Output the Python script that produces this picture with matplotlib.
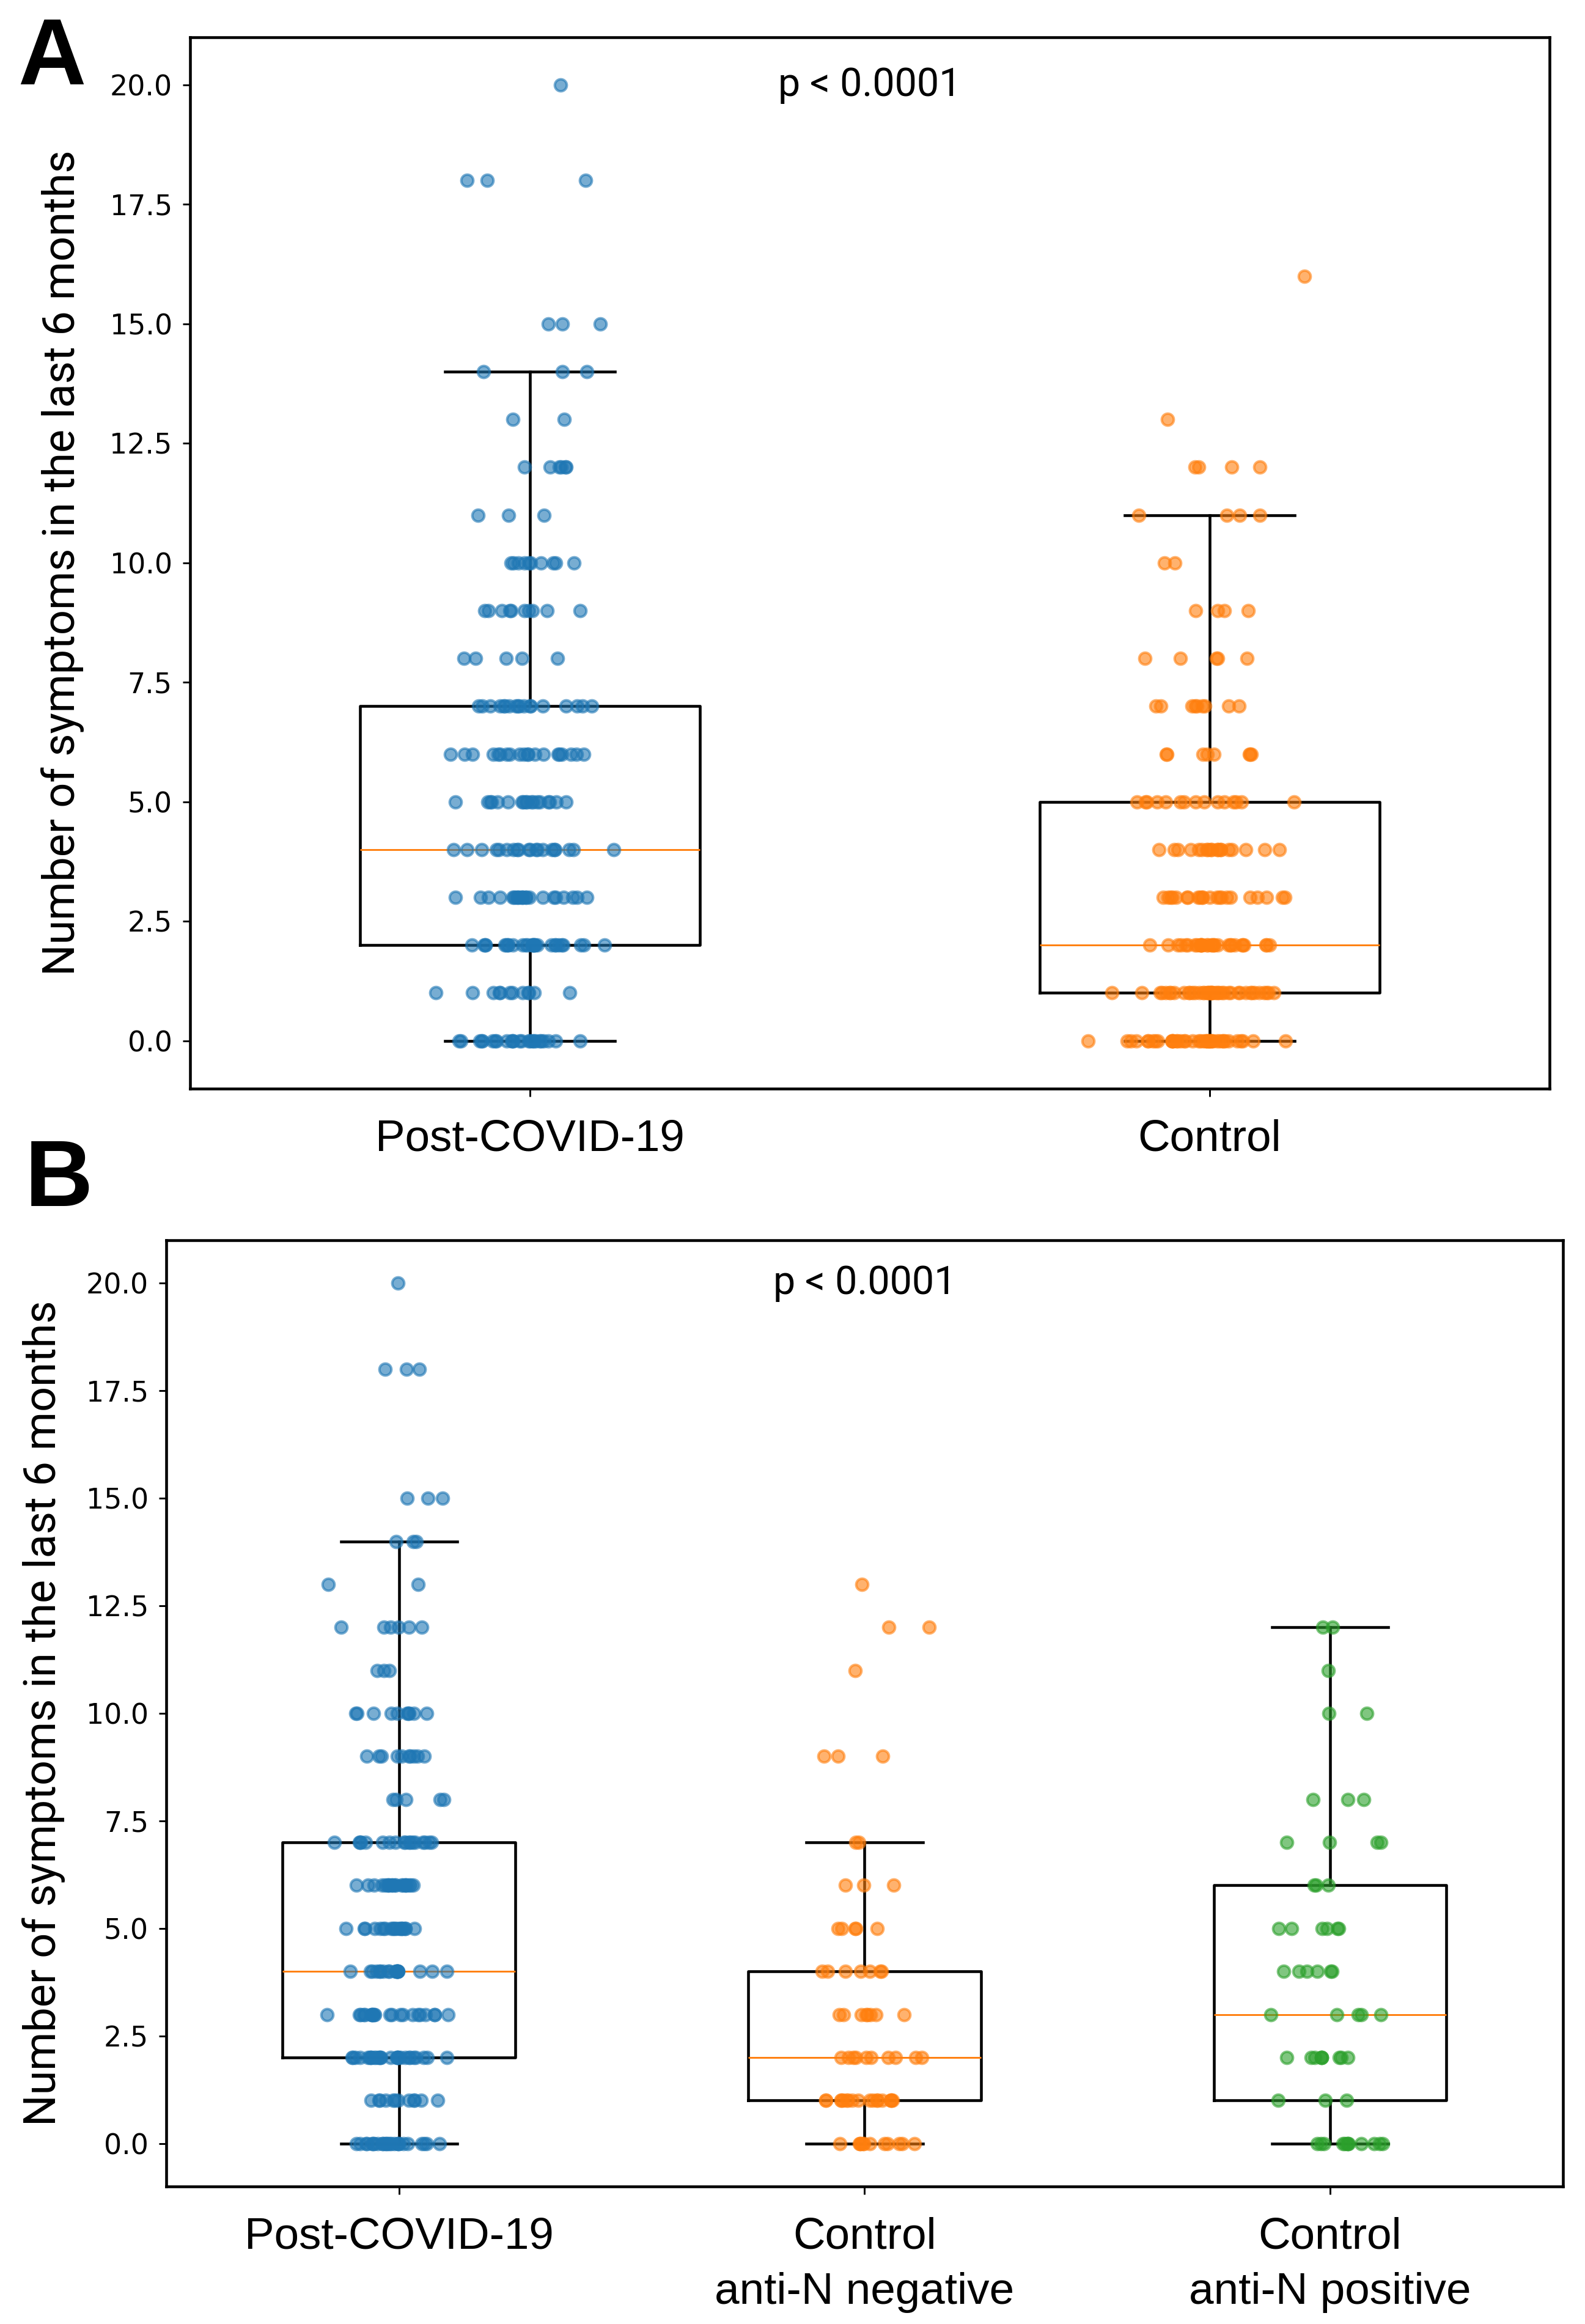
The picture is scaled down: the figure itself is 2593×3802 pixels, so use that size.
import numpy as np
from matplotlib import pyplot as plt

# symptom counts (value -> number of participants)
valores_post = [0, 1, 2, 3, 4, 5, 6, 7, 8, 9, 10, 11, 12, 13, 14, 15, 18, 20]
n_post = [25, 12, 28, 22, 20, 18, 20, 18, 5, 10, 10, 3, 6, 2, 3, 3, 3, 1]

valores_controle = [0, 1, 2, 3, 4, 5, 6, 7, 8, 9, 10, 11, 12, 13, 16]
n_controle = [42, 42, 30, 22, 19, 15, 8, 9, 5, 4, 2, 4, 4, 1, 1]

valores_neg = [0, 1, 2, 3, 4, 5, 6, 7, 9, 11, 12, 13]
n_neg = [12, 18, 10, 8, 7, 5, 3, 2, 3, 1, 2, 1]

valores_pos = [0, 1, 2, 3, 4, 5, 6, 7, 8, 10, 11, 12]
n_pos = [12, 3, 9, 5, 6, 6, 3, 4, 3, 2, 1, 2]

rotulos_a = ["Post-COVID-19", "Control"]
rotulos_b = ["Post-COVID-19", "Control\nanti-N negative", "Control\nanti-N positive"]
p_texto = "p < 0.0001"

post = np.repeat(valores_post, n_post)
controle = np.repeat(valores_controle, n_controle)
neg = np.repeat(valores_neg, n_neg)
pos = np.repeat(valores_pos, n_pos)

rng = np.random.default_rng(7)
fonte_texto = ["Roboto", "DejaVu Sans"]
fonte_rotulo = ["Liberation Sans", "DejaVu Sans"]


def painel(ax, grupos, rotulos, labelpad):
    posicoes = np.arange(1, len(grupos) + 1)
    linha = dict(color="black", linewidth=1.1)
    ax.boxplot(
        grupos,
        positions=posicoes,
        widths=0.5,
        showfliers=False,
        boxprops=linha,
        whiskerprops=linha,
        capprops=linha,
        medianprops=dict(color="C1", linewidth=0.7),
    )
    for i, g in enumerate(grupos):
        x = posicoes[i] + rng.normal(0, 0.055, len(g))
        ax.scatter(x, g, s=22, alpha=0.6, color=f"C{i}", linewidths=1.0, zorder=3)
    ax.set_xlim(0.5, len(grupos) + 0.5)
    ax.set_ylim(-1.0, 21.0)
    ax.set_yticks(np.arange(0, 20.1, 2.5))
    ax.set_yticklabels([f"{v:.1f}" for v in np.arange(0, 20.1, 2.5)])
    ax.set_xticks(posicoes)
    ax.set_xticklabels(rotulos, fontsize=17.5, family=fonte_rotulo, linespacing=1.45)
    ax.tick_params(axis="y", labelsize=11, length=3, width=0.7, pad=4)
    ax.tick_params(axis="x", length=3, width=0.7, pad=9)
    for s in ax.spines.values():
        s.set_linewidth(1.1)
    ax.set_ylabel(
        "Number of symptoms in the last 6 months",
        fontsize=17.3,
        family=fonte_texto,
        labelpad=labelpad,
    )
    ax.text(
        (len(grupos) + 1) / 2,
        20,
        p_texto,
        ha="center",
        va="center",
        fontsize=15.5,
        family=fonte_texto,
    )


fig = plt.figure(figsize=(2593 / 300, 3802 / 300), dpi=300)
ax_a = fig.add_axes([0.1199, 0.5316, 0.9776 - 0.1199, 0.984 - 0.5316])
ax_b = fig.add_axes([0.1049, 0.0592, 0.986 - 0.1049, 0.4663 - 0.0592])

painel(ax_a, [post, controle], rotulos_a, 10)
painel(ax_b, [post, neg, pos], rotulos_b, 8)

fig.text(0.0112, 0.9637, "A", fontsize=37, fontweight="bold",
         family=fonte_rotulo, va="baseline", ha="left")
fig.text(0.0158, 0.4811, "B", fontsize=37, fontweight="bold",
         family=fonte_rotulo, va="baseline", ha="left")

fig.savefig("out.png", dpi=300)
